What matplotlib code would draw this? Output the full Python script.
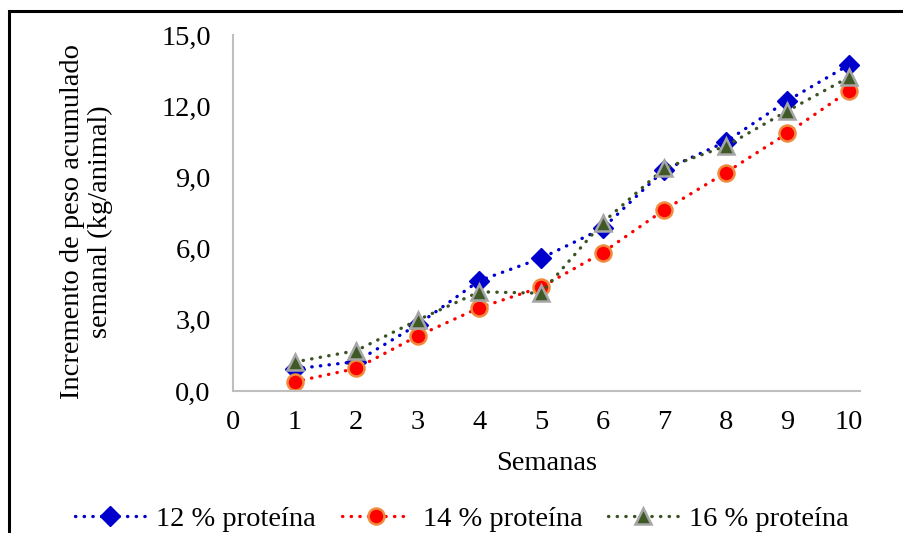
import matplotlib
matplotlib.use("Agg")
import matplotlib.pyplot as plt
from matplotlib.patches import Rectangle

plt.rcParams['font.family'] = ['Liberation Serif', 'DejaVu Serif']

semanas = [1, 2, 3, 4, 5, 6, 7, 8, 9, 10]
prot_12 = [0.93, 1.24, 2.80, 4.65, 5.59, 6.85, 9.31, 10.50, 12.23, 13.74]
prot_14 = [0.39, 0.95, 2.32, 3.51, 4.37, 5.83, 7.63, 9.20, 10.86, 12.64]
prot_16 = [1.22, 1.70, 2.99, 4.18, 4.12, 7.09, 9.38, 10.32, 11.80, 13.22]

series_names = ["12 % proteína", "14 % proteína", "16 % proteína"]
x_ticks = list(range(0, 11))
y_ticks = [0, 3, 6, 9, 12, 15]

W, H = 904, 533
FS = 20.5
fig = plt.figure(figsize=(W / 100, H / 100), dpi=100)

# outer frame of the chart area
fig.patches.append(Rectangle((9 / W, -0.1), 1.2, 1 - 11 / H + 0.1,
                             transform=fig.transFigure, fill=False,
                             edgecolor='black', linewidth=2.2))

ax = fig.add_axes([233 / W, 1 - 391 / H, (860 - 233) / W, (391 - 35) / H])

dots = (0, (0.1, 2.5))
common = dict(linestyle=dots, linewidth=2.4, dash_capstyle='round')

ax.plot(semanas, prot_12, color='#0000CC', marker='D', markersize=10,
        markerfacecolor='#0000CC', markeredgecolor='#0000CC',
        label=series_names[0], **common)
ax.plot(semanas, prot_14, color='#FF0000', marker='o', markersize=11.5,
        markerfacecolor='#FF0000', markeredgecolor='#F08A3C',
        markeredgewidth=1.8, label=series_names[1], **common)
ax.plot(semanas, prot_16, color='#3A5323', marker='^', markersize=11.5,
        markerfacecolor='#3F5A26', markeredgecolor='#A6A6A6',
        markeredgewidth=1.8, label=series_names[2], **common)

ax.set_xlim(0, 10.18)
ax.set_ylim(0, 15)
ax.set_xticks(x_ticks)
ax.set_yticks(y_ticks)
ax.set_yticklabels([f"{v:.1f}".replace('.', ',') for v in y_ticks])
ax.tick_params(axis='both', length=0, labelsize=FS)
ax.tick_params(axis='y', pad=16)
ax.tick_params(axis='x', pad=14)

for side in ('top', 'right'):
    ax.spines[side].set_visible(False)
for side in ('left', 'bottom'):
    ax.spines[side].set_color('#BFBFBF')
    ax.spines[side].set_linewidth(1.5)

ax.set_xlabel("Semanas", fontsize=FS, labelpad=11)
ax.set_ylabel("Incremento de peso acumulado\nsemanal (kg/animal)",
              fontsize=FS, labelpad=35, linespacing=1.12)
ax.yaxis.label.set_y(0.475)

fig.legend(loc='center', bbox_to_anchor=(462 / W, 1 - 519 / H), ncol=3,
           frameon=False, fontsize=FS, handlelength=2.45, columnspacing=0.9,
           handletextpad=0.4, borderpad=0)

fig.savefig("out.png", dpi=100)
